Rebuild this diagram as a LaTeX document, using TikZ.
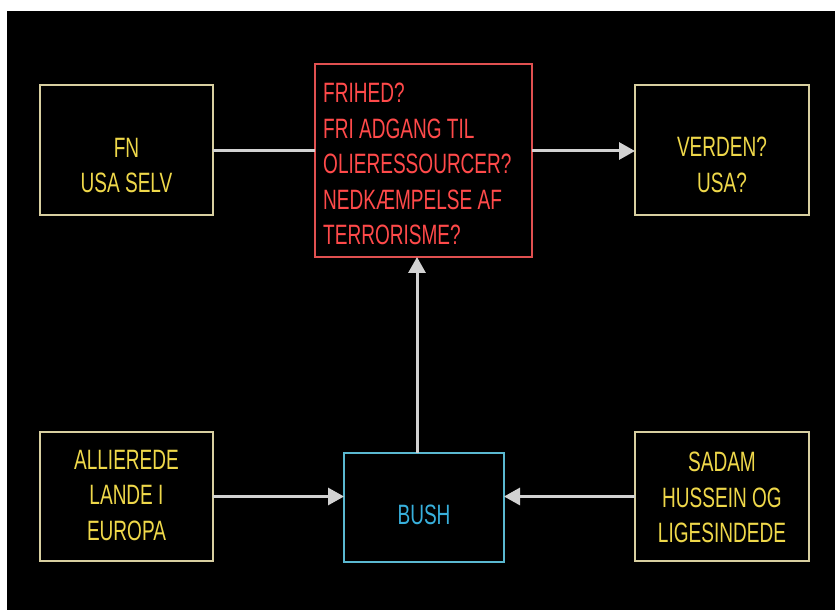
\documentclass[tikz,border=0pt]{standalone}
\usepackage{fontspec}
\newfontfamily\boxfont[FakeStretch=0.68]{Liberation Sans}
\usepackage{tikz}
\usetikzlibrary{calc,positioning,arrows.meta}
\definecolor{goldtext}{HTML}{EFD84A}
\definecolor{goldframe}{HTML}{D8CFA0}
\definecolor{redtext}{HTML}{FF4A4A}
\definecolor{redframe}{HTML}{E05050}
\definecolor{cyantext}{HTML}{38B0DC}
\definecolor{cyanframe}{HTML}{5AB8D0}
\definecolor{arrowgray}{HTML}{D2D2D2}
\tikzset{
  box/.style={draw, line width=1.5pt, inner sep=0pt, outer sep=0pt},
  ybox/.style={box, draw=goldframe},
  rbox/.style={box, draw=redframe},
  cbox/.style={box, draw=cyanframe},
  boxtext/.style={inner sep=0pt, anchor=north, font=\boxfont\fontsize{28}{35.5}\selectfont},
  link/.style={draw=arrowgray, line width=3pt},
  arr/.style={link, -{Triangle[length=16pt,width=17pt]}}
}
\begin{document}
\begin{tikzpicture}[x=1pt, y=1pt]
    \fill[white] (0,0) rectangle (835,610);
    \fill[black] (7,0) rectangle (835,599);
    \useasboundingbox (0,0) rectangle (835,610);

    \node[ybox, minimum width=173pt, minimum height=130pt] (fn) at (126.5,460) {};
    \node[rbox, minimum width=217pt, minimum height=193pt] (goal) at (423.5,449.5) {};
    \node[ybox, minimum width=174pt, minimum height=130pt] (world) at (722,460) {};
    \node[ybox, minimum width=173pt, minimum height=129pt] (allies) at (126.5,113.5) {};
    \node[cbox, minimum width=160pt, minimum height=109pt] (bush) at (424,102.5) {};
    \node[ybox, minimum width=174pt, minimum height=129pt] (sadam) at (722,113.5) {};

    \node[boxtext, text=goldtext, align=center] (fntext) at (126.5,472) {FN\\USA SELV};
    \node[boxtext, text=redtext, align=left, anchor=north west] (goaltext) at (323,527)
        {FRIHED?\\FRI ADGANG TIL\\OLIERESSOURCER?\\NEDKÆMPELSE AF\\TERRORISME?};
    \node[boxtext, text=goldtext, align=center] (worldtext) at (722,473) {VERDEN?\\USA?};
    \node[boxtext, text=goldtext, align=center] (alliestext) at (126.5,160) {ALLIEREDE\\LANDE I\\EUROPA};
    \node[boxtext, text=cyantext, align=center] (bushtext) at (424,105) {BUSH};
    \node[boxtext, text=goldtext, align=center] (sadamtext) at (722,158) {SADAM\\HUSSEIN OG\\LIGESINDEDE};

    \draw[link] ([yshift=-1pt]fn.east) -- ([yshift=-1pt]fn.east -| goal.west);
    \draw[arr] ([yshift=-1pt]world.west -| goal.east) -- ([yshift=-1pt]world.west);
    \draw[arr] ([xshift=-7pt]bush.north) -- ([xshift=-7pt]bush.north |- goal.south);
    \draw[arr] (allies.east) -- (allies.east -| bush.west);
    \draw[arr] (sadam.west) -- (sadam.west -| bush.east);
\end{tikzpicture}
\end{document}
